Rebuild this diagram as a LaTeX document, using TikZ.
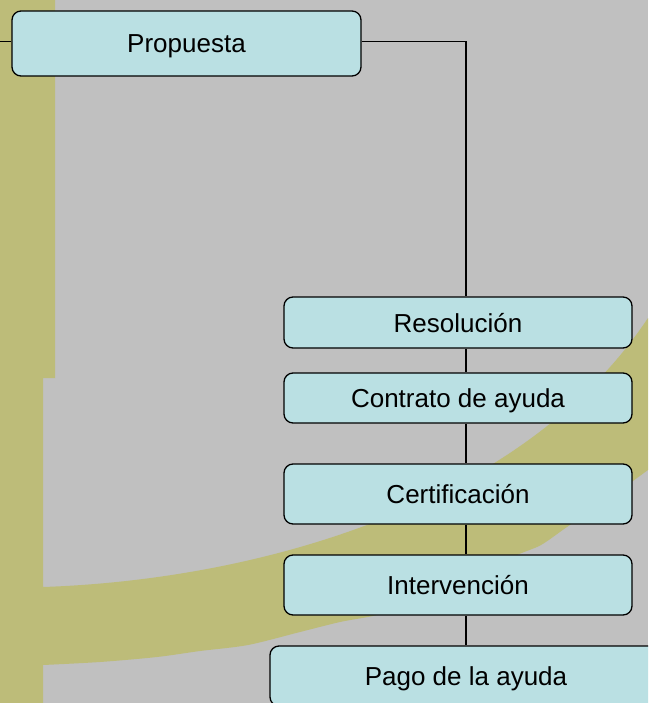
\documentclass[tikz,border=0pt]{standalone}
\usepackage{fontspec}
\setmainfont{Liberation Sans}
\definecolor{bggray}{RGB}{192,192,192}
\definecolor{bandolive}{RGB}{189,188,121}
\definecolor{boxcyan}{RGB}{186,224,227}
\begin{document}
\begin{tikzpicture}[x=1pt,y=-1pt,
  stage/.style={draw=black,line width=1.3pt,fill=boxcyan,rounded corners=9pt,
    minimum width=348pt,minimum height=60pt,inner sep=0pt,
    text height=19pt,text depth=0pt,
    font=\fontsize{26}{30}\selectfont},
  link/.style={line width=1.4pt}]
  \path[use as bounding box,clip] (0,0) rectangle (648,703);
  \fill[bggray] (0,0) rectangle (648,703);
  % band behind the stages
  \fill[bandolive] (0,0) -- (55,0) -- (55,378) -- (43,378) -- (43,587)
    .. controls (250,580) and (520,510) .. (648,318) -- (648,470)
    -- plot[smooth] coordinates {(600,505) (567,527) (541,545) (517,555)
       (450,585) (388,612) (340,622) (300,632) (248,645) (200,651)
       (157,657) (100,662) (43,665)}
    -- (43,703) -- (0,703) -- cycle;
  %
  \node[stage,minimum width=349pt,minimum height=65pt] (prop) at (186.5,43.5) {Propuesta};
  \node[stage,minimum height=51pt] (res) at (458,322.5) {Resolución};
  \node[stage,minimum height=50pt] (cont) at (458,398) {Contrato de ayuda};
  \node[stage] (cert) at (458,494) {Certificación};
  \node[stage] (interv) at (458,585) {Intervención};
  \node[stage,minimum width=392pt] (pago) at (466,676) {Pago de la ayuda};
  \coordinate (spine) at (466,41.5);
  \coordinate (rim) at (0,41.5);
  %
  \path[link]
    (rim) edge (rim -| prop.west)
    (spine -| prop.east) edge (spine)
    (spine) edge (spine |- res.north)
    (res.south -| spine) edge (cont.north -| spine)
    (cont.south -| spine) edge (cert.north -| spine)
    (cert.south -| spine) edge (interv.north -| spine)
    (interv.south -| spine) edge (pago.north -| spine);
\end{tikzpicture}
\end{document}
